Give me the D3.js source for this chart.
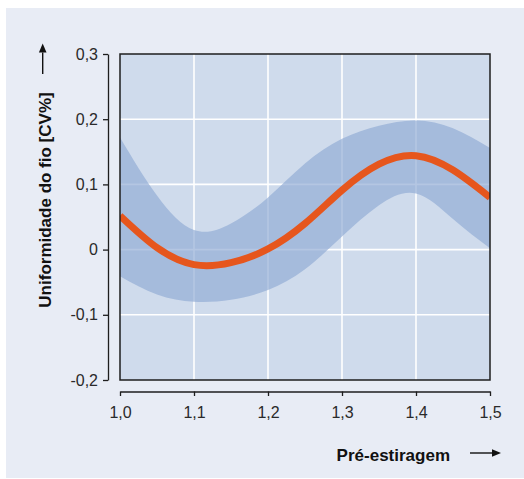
<!DOCTYPE html>
<html>
<head>
<meta charset="utf-8">
<script src="https://cdn.jsdelivr.net/npm/d3@7"></script>
<style>
  html, body { margin: 0; padding: 0; background: #ffffff; }
  svg { display: block; }
</style>
</head>
<body>
<svg id="chart" width="524" height="479"></svg>
<script>
// Pre-draft ratio vs. yarn evenness (CV%), fitted curve with confidence band
const draftRatio  = [1.00, 1.05, 1.10, 1.15, 1.20, 1.25, 1.30, 1.35, 1.40, 1.45, 1.50];
const meanCV      = [0.052, 0.003, -0.023, -0.020, 0.001, 0.040, 0.091, 0.131, 0.144, 0.122, 0.080];
const upperCV     = [0.172, 0.083, 0.030, 0.040, 0.080, 0.132, 0.170, 0.190, 0.198, 0.186, 0.156];
const lowerCV     = [-0.041, -0.069, -0.080, -0.077, -0.062, -0.030, 0.020, 0.068, 0.086, 0.047, 0.002];

const xTicks      = [1.0, 1.1, 1.2, 1.3, 1.4, 1.5];
const yTicks      = [-0.2, -0.1, 0, 0.1, 0.2, 0.3];
const xTickLabels = ["1,0", "1,1", "1,2", "1,3", "1,4", "1,5"];
const yTickLabels = ["-0,2", "-0,1", "0", "0,1", "0,2", "0,3"];

const xTitle = "Pré-estiragem";
const yTitle = "Uniformidade do fio [CV%]";

const svg = d3.select("#chart");
const plot = { left: 120, right: 490, top: 54, bottom: 380 };

const x = d3.scaleLinear().domain([1.0, 1.5]).range([plot.left, plot.right]);
const y = d3.scaleLinear().domain([-0.2, 0.3]).range([plot.bottom, plot.top]);

const rows = draftRatio.map((d, i) => ({ x: d, m: meanCV[i], hi: upperCV[i], lo: lowerCV[i] }));

// outer panel
svg.append("rect")
  .attr("x", 6).attr("y", 8).attr("width", 518).attr("height", 470)
  .attr("fill", "#e8ecf5");

// plot background
svg.append("rect")
  .attr("x", plot.left).attr("y", plot.top)
  .attr("width", plot.right - plot.left).attr("height", plot.bottom - plot.top)
  .attr("fill", "#cfdbec");

svg.append("clipPath").attr("id", "plotClip")
  .append("rect")
  .attr("x", plot.left).attr("y", plot.top)
  .attr("width", plot.right - plot.left).attr("height", plot.bottom - plot.top);

// grid
const grid = svg.append("g").attr("stroke", "#ffffff").attr("stroke-width", 1.6);
grid.selectAll("line.v").data(xTicks.slice(1, -1)).join("line")
  .attr("x1", d => x(d)).attr("x2", d => x(d))
  .attr("y1", plot.top).attr("y2", plot.bottom);
grid.selectAll("line.h").data(yTicks.slice(1, -1)).join("line")
  .attr("y1", d => y(d)).attr("y2", d => y(d))
  .attr("x1", plot.left).attr("x2", plot.right);

const g = svg.append("g").attr("clip-path", "url(#plotClip)");

// confidence band
const band = d3.area()
  .x(d => x(d.x)).y0(d => y(d.lo)).y1(d => y(d.hi))
  .curve(d3.curveNatural);
g.append("path").datum(rows)
  .attr("d", band)
  .attr("fill", "#90abd4")
  .attr("fill-opacity", 0.68);

// fitted curve
const line = d3.line()
  .x(d => x(d.x)).y(d => y(d.m))
  .curve(d3.curveNatural);
g.append("path").datum(rows)
  .attr("d", line)
  .attr("fill", "none")
  .attr("stroke", "#e6561d")
  .attr("stroke-width", 7);

// frame
svg.append("rect")
  .attr("x", plot.left).attr("y", plot.top)
  .attr("width", plot.right - plot.left).attr("height", plot.bottom - plot.top)
  .attr("fill", "none").attr("stroke", "#1e1e1e").attr("stroke-width", 1.5);

const font = "'Liberation Sans', Arial, sans-serif";

// y axis
const yAxis = svg.append("g")
  .attr("transform", "translate(108,0)")
  .call(d3.axisLeft(y).tickValues(yTicks)
    .tickFormat((d, i) => yTickLabels[i])
    .tickSize(5).tickSizeOuter(0).tickPadding(5));

// x axis
const xAxis = svg.append("g")
  .attr("transform", "translate(0,391.5)")
  .call(d3.axisBottom(x).tickValues(xTicks)
    .tickFormat((d, i) => xTickLabels[i])
    .tickSize(4.5).tickSizeOuter(0).tickPadding(11));

[yAxis, xAxis].forEach(a => {
  a.select(".domain").attr("stroke", "#1e1e1e").attr("stroke-width", 1.3);
  a.selectAll(".tick line").attr("stroke", "#1e1e1e").attr("stroke-width", 1.3);
  a.selectAll(".tick text")
    .attr("fill", "#2a2a2a")
    .style("font-family", font)
    .style("font-size", "16px");
});

// axis titles
svg.append("text")
  .attr("x", 450).attr("y", 461)
  .attr("text-anchor", "end")
  .style("font-family", font).style("font-size", "17px").style("font-weight", "bold")
  .attr("fill", "#111")
  .text(xTitle);

svg.append("text")
  .attr("transform", "translate(50.5,200) rotate(-90)")
  .attr("text-anchor", "middle")
  .style("font-family", font).style("font-size", "17px").style("font-weight", "bold")
  .attr("fill", "#111")
  .text(yTitle);

// direction arrows
function arrow(x1, y1, x2, y2) {
  const ang = Math.atan2(y2 - y1, x2 - x1);
  const len = 9, half = 3.8;
  const bx = x2 - len * Math.cos(ang), by = y2 - len * Math.sin(ang);
  svg.append("line")
    .attr("x1", x1).attr("y1", y1).attr("x2", bx).attr("y2", by)
    .attr("stroke", "#111").attr("stroke-width", 1.4);
  const px = -Math.sin(ang) * half, py = Math.cos(ang) * half;
  svg.append("path")
    .attr("d", `M${x2},${y2}L${bx + px},${by + py}L${bx - px},${by - py}Z`)
    .attr("fill", "#111");
}
arrow(470, 453, 501, 453);
arrow(42.7, 74, 42.7, 43.5);
</script>
</body>
</html>
